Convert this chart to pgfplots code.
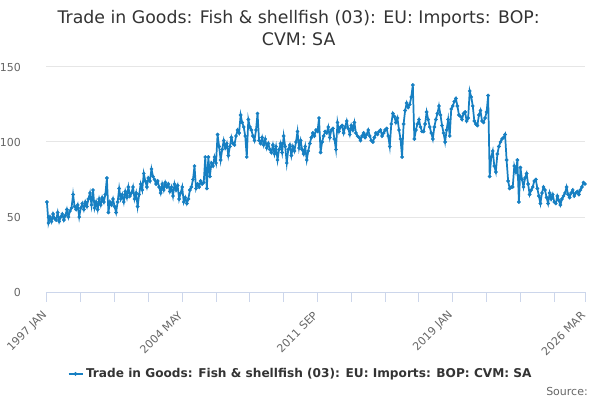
\documentclass[border=0pt]{standalone}
\usepackage{pgfplots}
\pgfplotsset{compat=1.18}
\usepackage{pgfplotstable}
\usepackage{fontspec}
\setmainfont{DejaVu Sans}
\definecolor{cline}{RGB}{22,127,194}
\definecolor{caxis}{RGB}{204,214,235}
\definecolor{cgrid}{RGB}{230,230,230}
\definecolor{ctitle}{RGB}{51,51,51}
\definecolor{clab}{RGB}{102,102,102}
\pgfplotstableread{
y
60
46
50
47
52
49
48
53
47
50
52
48
51
55
50
54
56
65
57
55
58
50
56
59
55
60
57
62
66
58
68
56
60
55
62
58
63
60
65
76
53
60
58
62
57
53
60
69
62
65
60
67
63
70
64
66
70
62
66
57
65
72
68
79
74
70
76
74
82
77
75
72
74
70
66
72
68
73
70
72
67
70
64
72
68
71
62
66
70
60
63
59
62
68
70
75
84
69
72
70
74
72
73
90
69
90
77
86
84
90
86
105
97
88
95
101
96
99
91
97
103
99
98
104
108
106
118
113
110
104
90
115
110
108
104
101
108
119
101
99
103
98
102
96
99
95
93
98
92
97
88
95
99
93
104
97
86
95
98
91
97
94
100
107
96
101
95
92
97
88
94
99
103
106
104
108
107
116
93
100
104
107
106
110
103
108
109
102
95
113
107
110
111
106
110
114
109
105
111
108
113
106
104
103
101
104
106
103
105
108
104
101
100
103
106
105
107
108
104
106
108
109
104
97
112
119
117
113
116
108
102
90
112
121
126
123
125
130
138
102
108
112
115
110
107
107
112
120
115
110
106
102
110
115
119
124
118
111
106
100
108
115
104
122
124
127
129
124
118
117
115
119
120
114
116
134
130
124
114
112
111
118
121
114
113
116
120
131
77
90
94
84
80
92
97
100
102
103
105
88
74
69
70
70
84
80
88
60
83
75
70
76
79
72
65
68
70
74
75
69
64
59
66
70
68
63
59
66
62
65
60
59
64
61
58
62
64
66
70
65
63
66
68
64
66
67
65
68
70
73
72
}\datatable
\begin{document}
\begin{tikzpicture}
\path[use as bounding box] (0,0) rectangle (450pt,300pt);
\begin{axis}[
  at={(34.5pt,81pt)}, anchor=south west,
  scale only axis, width=404.25pt, height=168.75pt,
  xmin=-0.6, xmax=350, ymin=0, ymax=150,
  axis x line*=bottom, axis y line*=left,
  y axis line style={draw=none},
  x axis line style={draw=caxis, line width=0.75pt},
  tick align=outside,
  major tick length=7.2pt,
  minor tick length=7.2pt,
  xtick style={draw=caxis, line width=0.75pt},
  ytick style={draw=none},
  ytick={0,50,100,150},
  xtick={0,88,176,264,350},
  xticklabels={1997 JAN,2004 MAY,2011 SEP,2019 JAN,2026 MAR},
  minor xtick={22,44,66,110,132,154,198,220,242,286,308,330},
  ymajorgrids,
  major grid style={draw=cgrid, line width=0.75pt},
  /pgf/number format/assume math mode=true,
  ticklabel style={font=\fontsize{8.25}{10}\selectfont, text=clab},
  yticklabel style={anchor=east, inner sep=0pt, xshift=-11.5pt},
  xticklabel style={xshift=-1.3pt, yshift=-8.8pt, rotate=45, anchor=east, inner sep=0pt},
  clip=false,
  legend style={at={(0.473,-0.364)}, anchor=center, draw=none, fill=none,
    font=\bfseries\fontsize{9.1}{11}\selectfont, text=ctitle},
  legend cell align=left,
  legend image code/.code={\draw[mark repeat=2,mark phase=2,#1] plot coordinates {(0pt,0pt) (5.25pt,0pt) (10.5pt,0pt)};},
]
\addplot[color=cline, line width=1.3pt, mark=*, mark size=1.25pt, mark options={solid, fill=cline, draw=cline, line width=0.3pt}]
  table[x expr=\coordindex, y=y] {\datatable};
\addlegendentry{Trade in Goods: Fish \& shellfish (03): EU: Imports: BOP: CVM: SA}
\end{axis}
\node[anchor=base, font=\fontsize{13}{16}\selectfont, text=ctitle] at (224pt,282pt) {Trade in Goods: Fish \& shellfish (03): EU: Imports: BOP:};
\node[anchor=base, font=\fontsize{13}{16}\selectfont, text=ctitle] at (224pt,265.5pt) {CVM: SA};
\node[anchor=east, font=\fontsize{8.25}{10}\selectfont, text=clab, inner sep=0pt] at (441pt,6.75pt) {Source:};
\end{tikzpicture}
\end{document}
